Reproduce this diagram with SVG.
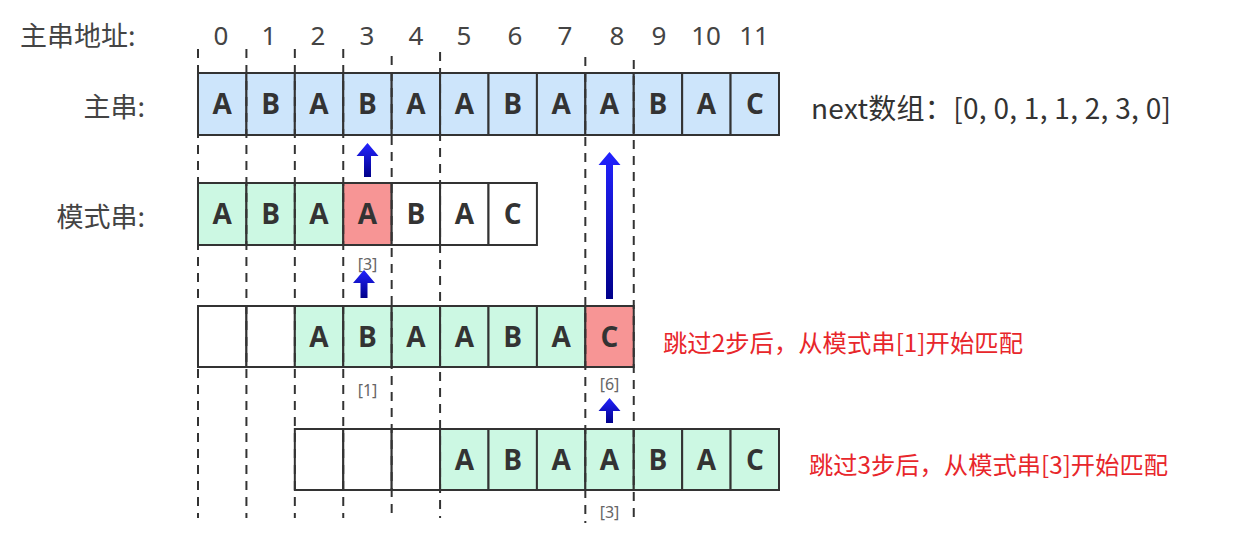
<svg xmlns="http://www.w3.org/2000/svg" width="1233" height="551" viewBox="0 0 1233 551">
<style>
.lbl{font-family:"Noto Sans CJK SC","Noto Sans",sans-serif;font-size:27px;fill:#444}
.idx{font-family:"Noto Sans","Open Sans",sans-serif;font-size:26px;fill:#444;text-anchor:middle}
.ch{font-family:"Open Sans","Noto Sans",sans-serif;font-size:28px;font-weight:bold;fill:#333;text-anchor:middle}
.c{stroke:#333;stroke-width:2}
.b{fill:#cde5fb}
.g{fill:#ccf8e3}
.r{fill:#f79595}
.w{fill:#fff}
.guide{stroke:#333;stroke-width:2;stroke-dasharray:9 7;fill:none}
.sub{font-family:"Noto Sans","Open Sans",sans-serif;font-size:16px;fill:#666;text-anchor:middle}
.red{font-family:"Noto Sans CJK SC",sans-serif;font-size:24px;fill:#e8262b}
</style>
<defs>
<linearGradient id="ag" x1="0" y1="0" x2="0" y2="1">
<stop offset="0" stop-color="#2323ff"/>
<stop offset="1" stop-color="#00008a"/>
</linearGradient>
</defs>
<rect width="1233" height="551" fill="#fff"/>

<g id="header">
<text class="lbl" x="20" y="46">主串地址:</text>
<text class="idx" x="221" y="45">0</text>
<text class="idx" x="269" y="45">1</text>
<text class="idx" x="318" y="45">2</text>
<text class="idx" x="367" y="45">3</text>
<text class="idx" x="416" y="45">4</text>
<text class="idx" x="464" y="45">5</text>
<text class="idx" x="515" y="45">6</text>
<text class="idx" x="565" y="45">7</text>
<text class="idx" x="617" y="45">8</text>
<text class="idx" x="659" y="45">9</text>
<text class="idx" x="706" y="45">10</text>
<text class="idx" x="754" y="45">11</text>
</g>

<g id="main-string">
<text class="lbl" x="145" y="117" text-anchor="end">主串:</text>
<rect class="c b" x="198" y="73" width="48.42" height="62"/>
<rect class="c b" x="246.42" y="73" width="48.42" height="62"/>
<rect class="c b" x="294.83" y="73" width="48.42" height="62"/>
<rect class="c b" x="343.25" y="73" width="48.42" height="62"/>
<rect class="c b" x="391.67" y="73" width="48.42" height="62"/>
<rect class="c b" x="440.08" y="73" width="48.42" height="62"/>
<rect class="c b" x="488.5" y="73" width="48.42" height="62"/>
<rect class="c b" x="536.92" y="73" width="48.42" height="62"/>
<rect class="c b" x="585.33" y="73" width="48.42" height="62"/>
<rect class="c b" x="633.75" y="73" width="48.42" height="62"/>
<rect class="c b" x="682.17" y="73" width="48.42" height="62"/>
<rect class="c b" x="730.58" y="73" width="48.42" height="62"/>
<text class="ch" x="222.2" y="114">A</text>
<text class="ch" x="270.6" y="114">B</text>
<text class="ch" x="319" y="114">A</text>
<text class="ch" x="367.5" y="114">B</text>
<text class="ch" x="415.9" y="114">A</text>
<text class="ch" x="464.3" y="114">A</text>
<text class="ch" x="512.7" y="114">B</text>
<text class="ch" x="561.1" y="114">A</text>
<text class="ch" x="609.5" y="114">A</text>
<text class="ch" x="658" y="114">B</text>
<text class="ch" x="706.4" y="114">A</text>
<text class="ch" x="754.8" y="114">C</text>
</g>

<g id="next-array">
<text class="lbl" x="811" y="119" textLength="360" lengthAdjust="spacing" style="fill:#333;font-size:28px">next数组：[0, 0, 1, 1, 2, 3, 0]</text>
</g>

<g id="pattern-1">
<text class="lbl" x="145" y="227" text-anchor="end">模式串:</text>
<rect class="c g" x="198" y="183" width="48.42" height="62"/>
<rect class="c g" x="246.42" y="183" width="48.42" height="62"/>
<rect class="c g" x="294.83" y="183" width="48.42" height="62"/>
<rect class="c r" x="343.25" y="183" width="48.42" height="62"/>
<rect class="c w" x="391.67" y="183" width="48.42" height="62"/>
<rect class="c w" x="440.08" y="183" width="48.42" height="62"/>
<rect class="c w" x="488.5" y="183" width="48.42" height="62"/>
<text class="ch" x="222.2" y="224">A</text>
<text class="ch" x="270.6" y="224">B</text>
<text class="ch" x="319" y="224">A</text>
<text class="ch" x="367.5" y="224">A</text>
<text class="ch" x="415.9" y="224">B</text>
<text class="ch" x="464.3" y="224">A</text>
<text class="ch" x="512.7" y="224">C</text>
<text class="sub" x="367.5" y="270">[3]</text>
</g>

<g id="pattern-2">
<rect class="c w" x="198" y="306" width="48.42" height="61"/>
<rect class="c w" x="246.42" y="306" width="48.42" height="61"/>
<rect class="c g" x="294.83" y="306" width="48.42" height="61"/>
<rect class="c g" x="343.25" y="306" width="48.42" height="61"/>
<rect class="c g" x="391.67" y="306" width="48.42" height="61"/>
<rect class="c g" x="440.08" y="306" width="48.42" height="61"/>
<rect class="c g" x="488.5" y="306" width="48.42" height="61"/>
<rect class="c g" x="536.92" y="306" width="48.42" height="61"/>
<rect class="c r" x="585.33" y="306" width="48.42" height="61"/>
<text class="ch" x="319" y="346.5">A</text>
<text class="ch" x="367.5" y="346.5">B</text>
<text class="ch" x="415.9" y="346.5">A</text>
<text class="ch" x="464.3" y="346.5">A</text>
<text class="ch" x="512.7" y="346.5">B</text>
<text class="ch" x="561.1" y="346.5">A</text>
<text class="ch" x="609.5" y="346.5">C</text>
<text class="sub" x="367.5" y="396">[1]</text>
<text class="sub" x="609.5" y="390">[6]</text>
<text class="red" x="663" y="352" textLength="360" lengthAdjust="spacingAndGlyphs">跳过2步后，从模式串[1]开始匹配</text>
</g>

<g id="pattern-3">
<rect class="c w" x="294.83" y="429" width="48.42" height="61"/>
<rect class="c w" x="343.25" y="429" width="48.42" height="61"/>
<rect class="c w" x="391.67" y="429" width="48.42" height="61"/>
<rect class="c g" x="440.08" y="429" width="48.42" height="61"/>
<rect class="c g" x="488.5" y="429" width="48.42" height="61"/>
<rect class="c g" x="536.92" y="429" width="48.42" height="61"/>
<rect class="c g" x="585.33" y="429" width="48.42" height="61"/>
<rect class="c g" x="633.75" y="429" width="48.42" height="61"/>
<rect class="c g" x="682.17" y="429" width="48.42" height="61"/>
<rect class="c g" x="730.58" y="429" width="48.42" height="61"/>
<text class="ch" x="464.3" y="469.5">A</text>
<text class="ch" x="512.7" y="469.5">B</text>
<text class="ch" x="561.1" y="469.5">A</text>
<text class="ch" x="609.5" y="469.5">A</text>
<text class="ch" x="658" y="469.5">B</text>
<text class="ch" x="706.4" y="469.5">A</text>
<text class="ch" x="754.8" y="469.5">C</text>
<text class="sub" x="609.5" y="518">[3]</text>
<text class="red" x="809" y="474" textLength="359" lengthAdjust="spacingAndGlyphs">跳过3步后，从模式串[3]开始匹配</text>
</g>

<g id="guides">
<line class="guide" x1="198" y1="49" x2="198" y2="518"/>
<line class="guide" x1="246.42" y1="49" x2="246.42" y2="518"/>
<line class="guide" x1="294.83" y1="49" x2="294.83" y2="518"/>
<line class="guide" x1="343.25" y1="49" x2="343.25" y2="518"/>
<line class="guide" x1="391.67" y1="56" x2="391.67" y2="518"/>
<line class="guide" x1="440.08" y1="52" x2="440.08" y2="518"/>
<line class="guide" x1="585.33" y1="57" x2="585.33" y2="523"/>
<line class="guide" x1="633.75" y1="60" x2="633.75" y2="523"/>
</g>

<g id="connectors" fill="url(#ag)">
<path d="M367.5 143 L378.5 156 L371 156 L371 177 L364 177 L364 156 L356.5 156 Z"/>
<path d="M609.5 152 L620.5 165 L613 165 L613 299 L606 299 L606 165 L598.5 165 Z"/>
<path d="M364 270 L375 283 L367.5 283 L367.5 298 L360.5 298 L360.5 283 L353 283 Z"/>
<path d="M609.5 398 L620.5 411 L613 411 L613 423 L606 423 L606 411 L598.5 411 Z"/>
</g>
</svg>
